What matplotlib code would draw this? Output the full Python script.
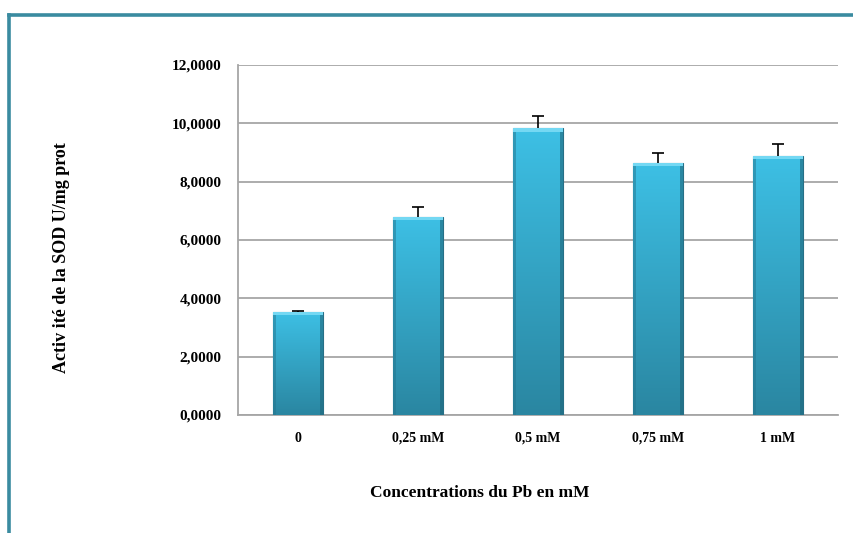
import matplotlib
matplotlib.use('Agg')
import matplotlib.pyplot as plt
from matplotlib.patches import Rectangle
from matplotlib.colors import LinearSegmentedColormap
import numpy as np

# Data
categories = ['0', '0,25 mM', '0,5 mM', '0,75 mM', '1 mM']
activite = [3.54, 6.80, 9.83, 8.65, 8.89]
erreur = [0.03, 0.34, 0.43, 0.34, 0.40]
yticks = [0, 2, 4, 6, 8, 10, 12]
ylabels = ['0,0000', '2,0000', '4,0000', '6,0000', '8,0000', '10,0000', '12,0000']

plt.rcParams['font.family'] = ['Liberation Serif', 'DejaVu Serif']
plt.rcParams['font.weight'] = 'bold'

fig = plt.figure(figsize=(8.54, 5.33), dpi=100)
ax = fig.add_axes([238 / 854, 1 - 415 / 533, 600 / 854, 350 / 533])

x = np.arange(len(categories))
lebar = 0.41
bars = ax.bar(x, activite, width=lebar, color='#37AFD2', edgecolor='#276F86',
              linewidth=0.8, zorder=3)

# gradasi warna di batang
cmap = LinearSegmentedColormap.from_list('biru', ['#2A86A1', '#3DC0E5'])
grad = np.linspace(0, 1, 256).reshape(-1, 1)
for b in bars:
    x0, y0 = b.get_x(), b.get_y()
    w, h = b.get_width(), b.get_height()
    im = ax.imshow(grad, cmap=cmap, origin='lower', aspect='auto',
                   extent=[x0, x0 + w, y0, y0 + h], zorder=3.5)
    im.set_clip_path(b)
    # sisi gelap kiri-kanan
    ax.add_patch(Rectangle((x0, y0), w * 0.06, h, color='#25758D', alpha=0.5, lw=0, zorder=3.6))
    ax.add_patch(Rectangle((x0 + w * 0.94, y0), w * 0.06, h, color='#1F6478', alpha=0.6, lw=0, zorder=3.6))
    ax.add_patch(Rectangle((x0, h - 0.12), w, 0.12, color='#74D8F3', lw=0, zorder=3.7))

eb = ax.errorbar(x, activite, yerr=[np.zeros(len(erreur)), erreur], fmt='none',
                 ecolor='black', elinewidth=1.2, capsize=4, capthick=1.2, zorder=4)
eb[1][0].set_visible(False)

ax.set_xlim(-0.5, len(categories) - 0.5)
ax.set_ylim(0, 12)
ax.set_yticks(yticks)
ax.set_yticklabels(ylabels, fontsize=11, fontweight='bold')
ax.set_xticks(x)
ax.set_xticklabels(categories, fontsize=10, fontweight='bold')
ax.tick_params(axis='y', length=0, pad=12)
ax.tick_params(axis='x', length=0, pad=12)
ax.yaxis.grid(True, color='#A6A6A6', linewidth=1.3, zorder=0)
ax.set_axisbelow(True)
for s in ['top', 'right']:
    ax.spines[s].set_visible(False)
ax.spines['left'].set_color('#A6A6A6')
ax.spines['bottom'].set_color('#A6A6A6')
ax.spines['left'].set_linewidth(1.3)
ax.spines['bottom'].set_linewidth(1.3)

fig.text(480 / 854, 1 - 493 / 533, 'Concentrations du Pb en mM', fontsize=12.5,
         fontweight='bold', ha='center', va='center')
fig.text(62 / 854, 1 - 258 / 533, 'Activ ité de la SOD U/mg prot', fontsize=13,
         fontweight='bold', ha='center', va='center', rotation=90)

# bingkai
fig.add_artist(plt.Line2D([9 / 854, 9 / 854], [-0.1, 1 - 15 / 533],
                          transform=fig.transFigure, color='#3A8BA0', linewidth=2.6))
fig.add_artist(plt.Line2D([9 / 854, 1.1], [1 - 15 / 533, 1 - 15 / 533],
                          transform=fig.transFigure, color='#3A8BA0', linewidth=2.6))

fig.savefig('out.png', dpi=100)
